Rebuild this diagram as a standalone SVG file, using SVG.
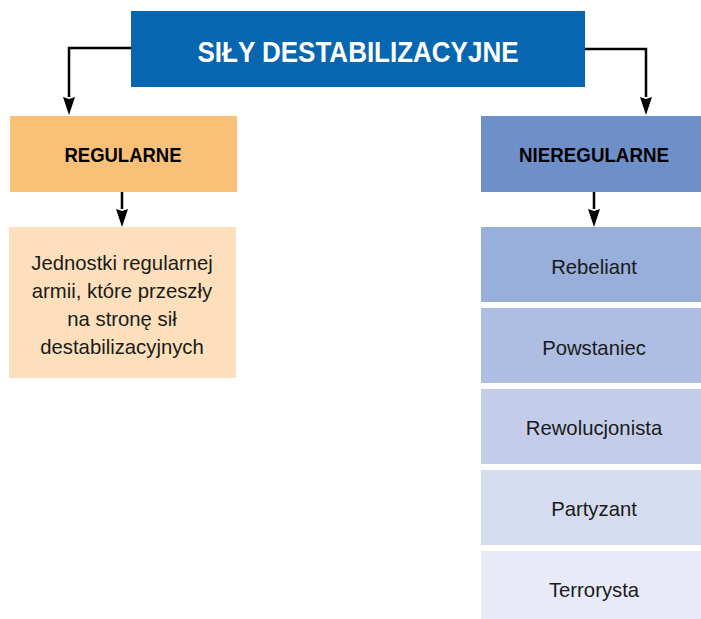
<svg xmlns="http://www.w3.org/2000/svg" width="701" height="619" viewBox="0 0 701 619">
  <defs>
    <style>
      .head { font-family: "Liberation Sans", Arial, sans-serif; font-weight: bold; text-anchor: middle; }
      .body { font-family: "Liberation Sans", Arial, sans-serif; font-size: 20.3px; fill: #1a1a1a; text-anchor: middle; }
      .conn { fill: none; stroke: #000; stroke-width: 2.5; }
      .tip { fill: #000; }
    </style>
  </defs>
  <rect width="701" height="619" fill="#fff"/>

  <g id="connectors">
    <path class="conn" d="M131,48 H69 V97"/>
    <path class="conn" d="M585,49 H646 V97"/>
    <path class="conn" d="M122,192 V209"/>
    <path class="conn" d="M594,192 V209"/>
    <path class="tip" d="M63,97 L69,99 L75,97 L69,115 Z"/>
    <path class="tip" d="M640,97 L646,99 L652,97 L646,115 Z"/>
    <path class="tip" d="M116,209 L122,211 L128,209 L122,227 Z"/>
    <path class="tip" d="M588,209 L594,211 L600,209 L594,227 Z"/>
  </g>

  <g id="root">
    <rect x="131" y="11" width="454" height="76" fill="#0766b0"/>
    <text class="head" x="358" y="62" font-size="29" fill="#fff" textLength="321" lengthAdjust="spacingAndGlyphs">SIŁY DESTABILIZACYJNE</text>
  </g>

  <g id="regularne">
    <rect x="10" y="116" width="227" height="76" fill="#f9c077"/>
    <text class="head" x="123" y="162" font-size="20" fill="#000" textLength="117" lengthAdjust="spacingAndGlyphs">REGULARNE</text>
  </g>

  <g id="nieregularne">
    <rect x="481" y="116" width="227" height="76" fill="#6f8fc8"/>
    <text class="head" x="594" y="162" font-size="20" fill="#000" textLength="150" lengthAdjust="spacingAndGlyphs">NIEREGULARNE</text>
  </g>

  <g id="regularne-opis">
    <rect x="9" y="227" width="227" height="151" fill="#fde0bb"/>
    <text class="body" x="122" y="270">Jednostki regularnej</text>
    <text class="body" x="122" y="298">armii, które przeszły</text>
    <text class="body" x="122" y="326">na stronę sił</text>
    <text class="body" x="122" y="354">destabilizacyjnych</text>
  </g>

  <g id="rebeliant">
    <rect x="481" y="227" width="227" height="75" fill="#98aedb"/>
    <text class="body" x="594" y="274">Rebeliant</text>
  </g>
  <g id="powstaniec">
    <rect x="481" y="308" width="227" height="75" fill="#aebde2"/>
    <text class="body" x="594" y="355">Powstaniec</text>
  </g>
  <g id="rewolucjonista">
    <rect x="481" y="389" width="227" height="75" fill="#c3cdea"/>
    <text class="body" x="594" y="435">Rewolucjonista</text>
  </g>
  <g id="partyzant">
    <rect x="481" y="470" width="227" height="75" fill="#d5dcf0"/>
    <text class="body" x="594" y="516">Partyzant</text>
  </g>
  <g id="terrorysta">
    <rect x="481" y="551" width="227" height="75" fill="#e8ebf7"/>
    <text class="body" x="594" y="597">Terrorysta</text>
  </g>
</svg>
